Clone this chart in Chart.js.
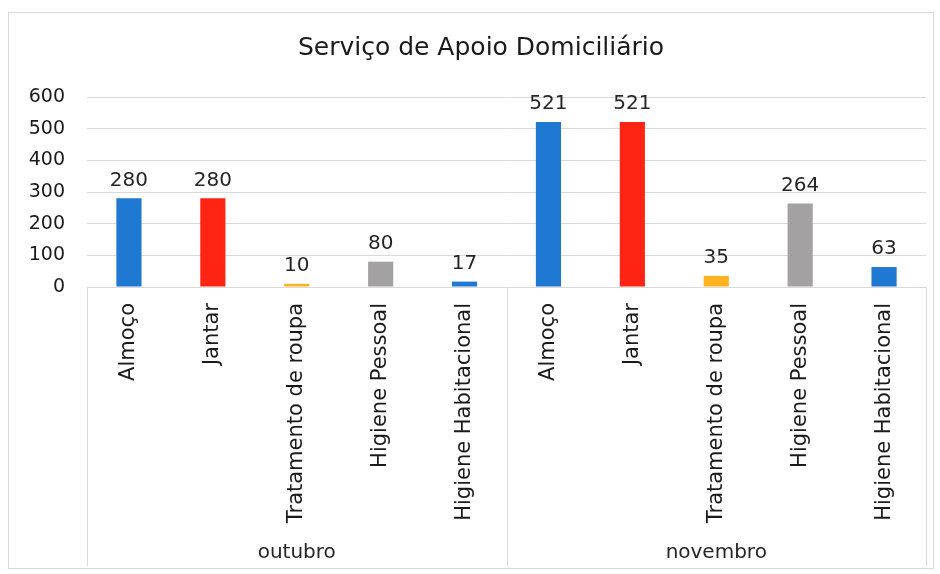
<!DOCTYPE html>
<html>
<head>
<meta charset="utf-8">
<script src="https://cdn.jsdelivr.net/npm/chart.js@4.4.1/dist/chart.umd.min.js"></script>
<style>
  html, body { margin: 0; padding: 0; background: #fff; }
  #wrap { position: relative; width: 940px; height: 574px; }
  #frame { position: absolute; left: 8px; top: 12px; width: 926px; height: 557px; border: 1px solid #d9d9d9; box-sizing: border-box; }
</style>
</head>
<body>
<div id="wrap">
  <div id="frame"></div>
  <canvas id="chart" width="940" height="574"></canvas>
</div>
<script>
const chartTitle = 'Serviço de Apoio Domiciliário';
const months = ['outubro', 'novembro'];
const services = ['Almoço', 'Jantar', 'Tratamento de roupa', 'Higiene Pessoal', 'Higiene Habitacional'];
const outubro = [280, 280, 10, 80, 17];
const novembro = [521, 521, 35, 264, 63];
const yTicks = [0, 100, 200, 300, 400, 500, 600];

const serviceColors = ['#1f78d1', '#ff2414', '#ffb21f', '#a3a1a2', '#1f78d1'];
const FONT = "'DejaVu Sans', Verdana, sans-serif";

const labels = months.flatMap(() => services);
const values = [...outubro, ...novembro];
const colors = months.flatMap(() => serviceColors);

// title, centred over the frame like the original
const frameTitle = {
  id: 'frameTitle',
  afterDraw(chart) {
    const ctx = chart.ctx;
    ctx.save();
    ctx.font = '25px ' + FONT;
    ctx.fillStyle = '#1a1a1a';
    ctx.textAlign = 'center';
    ctx.textBaseline = 'middle';
    ctx.fillText(chartTitle, 481, 48);
    ctx.restore();
  }
};

// value labels above each bar
const valueLabels = {
  id: 'valueLabels',
  afterDatasetsDraw(chart) {
    const ctx = chart.ctx;
    const meta = chart.getDatasetMeta(0);
    ctx.save();
    ctx.font = '20px ' + FONT;
    ctx.fillStyle = '#262626';
    ctx.textAlign = 'center';
    ctx.textBaseline = 'bottom';
    meta.data.forEach((bar, i) => {
      ctx.fillText(values[i], bar.x, bar.y - 8);
    });
    ctx.restore();
  }
};

// month group boxes under the category axis
const monthGroups = {
  id: 'monthGroups',
  afterDraw(chart) {
    const ctx = chart.ctx;
    const x = chart.scales.x;
    const area = chart.chartArea;
    const n = services.length;
    const bounds = [area.left];
    for (let g = 1; g < months.length; g++) {
      bounds.push((x.getPixelForValue(g * n - 1) + x.getPixelForValue(g * n)) / 2);
    }
    bounds.push(area.right);
    ctx.save();
    ctx.strokeStyle = '#d9d9d9';
    ctx.lineWidth = 1;
    bounds.forEach(b => {
      ctx.beginPath();
      ctx.moveTo(Math.round(b) + 0.5, area.bottom);
      ctx.lineTo(Math.round(b) + 0.5, 566);
      ctx.stroke();
    });
    ctx.font = '20px ' + FONT;
    ctx.fillStyle = '#262626';
    ctx.textAlign = 'center';
    ctx.textBaseline = 'middle';
    months.forEach((m, g) => {
      ctx.fillText(m, (bounds[g] + bounds[g + 1]) / 2, 553);
    });
    ctx.restore();
  }
};

new Chart(document.getElementById('chart'), {
  type: 'bar',
  data: {
    labels: labels,
    datasets: [{
      data: values,
      backgroundColor: colors,
      barPercentage: 0.3,
      categoryPercentage: 1
    }]
  },
  options: {
    responsive: false,
    animation: false,
    layout: { padding: { left: 0, right: 14, top: 97, bottom: 0 } },
    plugins: {
      legend: { display: false },
      tooltip: { enabled: false },
      title: { display: false }
    },
    scales: {
      x: {
        grid: { display: false },
        border: { display: false },
        ticks: {
          color: '#1a1a1a',
          font: { family: FONT, size: 21 },
          minRotation: 90,
          maxRotation: 90,
          autoSkip: false,
          padding: 8
        },
        afterFit(scale) { scale.height = 287; }
      },
      y: {
        min: 0,
        max: 600,
        afterBuildTicks(scale) { scale.ticks = yTicks.map(v => ({ value: v })); },
        grid: { color: '#d9d9d9', drawTicks: false },
        border: { display: false },
        ticks: {
          color: '#1a1a1a',
          font: { family: FONT, size: 19 },
          padding: 22
        },
        afterFit(scale) { scale.width = 87; }
      }
    }
  },
  plugins: [valueLabels, monthGroups, frameTitle]
});
</script>
</body>
</html>
